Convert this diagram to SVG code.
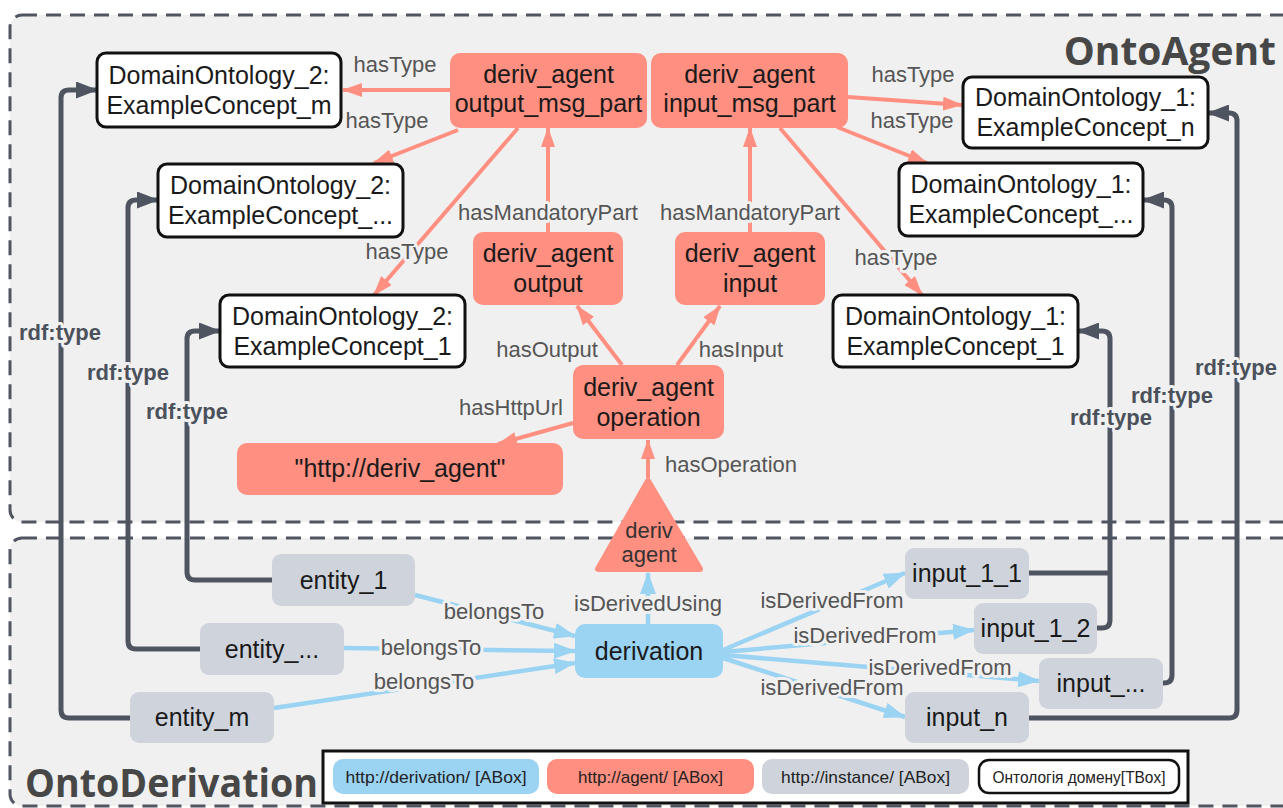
<svg xmlns="http://www.w3.org/2000/svg" width="1283" height="808" viewBox="0 0 1283 808">
<defs>
<style>
.cont{fill:#f0f0f0;stroke:#4f5661;stroke-width:3;stroke-dasharray:15 9}
.tbox{fill:#fff;stroke:#111;stroke-width:3}
.red{fill:#ff8f80}
.blue{fill:#9bd3f3}
.gray{fill:#cfd4dc}
.nt{font-family:"Liberation Sans",Arial,sans-serif;font-size:25px;fill:#1a1a1a;text-anchor:middle}
.lbl{font-family:"Liberation Sans",Arial,sans-serif;font-size:22px;fill:#555;text-anchor:middle;paint-order:stroke;stroke:#f0f0f0;stroke-width:6px;stroke-linejoin:round}
.rdf{font-family:"Liberation Sans",Arial,sans-serif;font-size:22px;font-weight:bold;fill:#4b515b;text-anchor:middle;paint-order:stroke;stroke:#f0f0f0;stroke-width:6px;stroke-linejoin:round}
.title{font-family:"Open Sans","DejaVu Sans",sans-serif;font-size:39px;font-weight:bold;fill:#474747}
.leg{font-family:"Liberation Sans",Arial,sans-serif;font-size:17px;fill:#222;text-anchor:middle}
.er{fill:none;stroke:#ff8f80;stroke-width:4;marker-end:url(#ar)}
.eb{fill:none;stroke:#9bd3f3;stroke-width:4.5;marker-end:url(#ab)}
.eg{fill:none;stroke:#4e5561;stroke-width:5;stroke-linejoin:round}
.ega{marker-end:url(#ag)}
</style>
<marker id="ar" markerUnits="userSpaceOnUse" viewBox="0 0 20 14" markerWidth="20" markerHeight="14" refX="19" refY="7" orient="auto"><path d="M0,0 L20,7 L0,14 z" fill="#ff8f80"/></marker>
<marker id="ab" markerUnits="userSpaceOnUse" viewBox="0 0 22 16" markerWidth="22" markerHeight="16" refX="21" refY="8" orient="auto"><path d="M0,0 L22,8 L0,16 z" fill="#9bd3f3"/></marker>
<marker id="ag" markerUnits="userSpaceOnUse" viewBox="0 0 22 17" markerWidth="22" markerHeight="17" refX="21" refY="8.5" orient="auto"><path d="M0,0 L22,8.5 L0,17 z" fill="#4e5561"/></marker>
</defs>

<g id="containers">
<rect class="cont" x="10" y="15" width="1295" height="507" rx="12"/>
<rect class="cont" x="10" y="538" width="1295" height="268" rx="12"/>
<text class="title" x="1276" y="65" text-anchor="end">OntoAgent</text>
<text class="title" x="25" y="797" textLength="293" lengthAdjust="spacingAndGlyphs">OntoDerivation</text>
</g>

<g id="connectors">
<!-- red -->
<path class="er" d="M450,90 L343,90"/>
<path class="er" d="M458,130 L374,163"/>
<path class="er" d="M518,128 L374,295"/>
<path class="er" d="M548,232 L548,128"/>
<path class="er" d="M750,232 L750,128"/>
<path class="er" d="M848,97 L962,105"/>
<path class="er" d="M837,127 L927,163"/>
<path class="er" d="M780,128 L922,295"/>
<path class="er" d="M622,365 L577,306"/>
<path class="er" d="M677,365 L720,306"/>
<path class="er" d="M573,423 L498,444"/>
<path class="er" d="M648,478 L648,440"/>
<!-- blue -->
<path class="eb" d="M415,595 L575,636"/>
<path class="eb" d="M344,648 L575,651"/>
<path class="eb" d="M274,708 L575,663"/>
<path class="eb" d="M648,624 L648,573"/>
<path class="eb" d="M723,650 L905,573"/>
<path class="eb" d="M723,652 L974,630"/>
<path class="eb" d="M723,655 L1039,681"/>
<path class="eb" d="M723,658 L905,717"/>
<!-- gray rdf:type -->
<path class="eg ega" d="M130,718 H69 Q61,718 61,710 V98 Q61,90 69,90 H97"/>
<path class="eg ega" d="M200,649 H136 Q128,649 128,641 V208 Q128,200 136,200 H158"/>
<path class="eg ega" d="M272,580 H195 Q187,580 187,572 V339 Q187,331 195,331 H220"/>
<path class="eg" d="M1029,573 H1110"/>
<path class="eg ega" d="M1097,628 H1102 Q1110,628 1110,620 V339 Q1110,331 1102,331 H1078"/>
<path class="eg ega" d="M1163,683 H1164 Q1172,683 1172,675 V208 Q1172,200 1164,200 H1143"/>
<path class="eg ega" d="M1029,718 H1229 Q1237,718 1237,710 V121 Q1237,113 1229,113 H1208"/>
<!-- labels -->
<text class="lbl" x="395" y="72">hasType</text>
<text class="lbl" x="387" y="128">hasType</text>
<text class="lbl" x="407" y="259">hasType</text>
<text class="lbl" x="548" y="220">hasMandatoryPart</text>
<text class="lbl" x="750" y="220">hasMandatoryPart</text>
<text class="lbl" x="913" y="82">hasType</text>
<text class="lbl" x="912" y="128">hasType</text>
<text class="lbl" x="896" y="265">hasType</text>
<text class="lbl" x="547" y="357">hasOutput</text>
<text class="lbl" x="741" y="357">hasInput</text>
<text class="lbl" x="511" y="415">hasHttpUrl</text>
<text class="lbl" x="731" y="472">hasOperation</text>
<text class="lbl" x="494" y="619">belongsTo</text>
<text class="lbl" x="431" y="655">belongsTo</text>
<text class="lbl" x="424" y="689">belongsTo</text>
<text class="lbl" x="648" y="611">isDerivedUsing</text>
<text class="lbl" x="832" y="608">isDerivedFrom</text>
<text class="lbl" x="865" y="643">isDerivedFrom</text>
<text class="lbl" x="940" y="675">isDerivedFrom</text>
<text class="lbl" x="832" y="695">isDerivedFrom</text>
<text class="rdf" x="60" y="340">rdf:type</text>
<text class="rdf" x="128" y="380">rdf:type</text>
<text class="rdf" x="187" y="419">rdf:type</text>
<text class="rdf" x="1111" y="425">rdf:type</text>
<text class="rdf" x="1172" y="403">rdf:type</text>
<text class="rdf" x="1236" y="375">rdf:type</text>
</g>

<g id="do2_m"><rect class="tbox" x="97" y="53" width="244" height="74" rx="9"/><text class="nt" x="219" y="84">DomainOntology_2:</text><text class="nt" x="219" y="114">ExampleConcept_m</text></g>
<g id="do2_etc"><rect class="tbox" x="158" y="164" width="245" height="73" rx="9"/><text class="nt" x="280.5" y="194">DomainOntology_2:</text><text class="nt" x="280.5" y="224">ExampleConcept_...</text></g>
<g id="do2_1"><rect class="tbox" x="220" y="295" width="245" height="72" rx="9"/><text class="nt" x="342.5" y="325">DomainOntology_2:</text><text class="nt" x="342.5" y="355">ExampleConcept_1</text></g>
<g id="do1_n"><rect class="tbox" x="963" y="77" width="245" height="71" rx="9"/><text class="nt" x="1085.5" y="106">DomainOntology_1:</text><text class="nt" x="1085.5" y="136">ExampleConcept_n</text></g>
<g id="do1_etc"><rect class="tbox" x="899" y="163" width="244" height="73" rx="9"/><text class="nt" x="1021" y="193">DomainOntology_1:</text><text class="nt" x="1021" y="223">ExampleConcept_...</text></g>
<g id="do1_1"><rect class="tbox" x="833" y="295" width="245" height="72" rx="9"/><text class="nt" x="955.5" y="325">DomainOntology_1:</text><text class="nt" x="955.5" y="355">ExampleConcept_1</text></g>

<g id="out_msg"><rect class="red" x="450" y="53" width="197" height="75" rx="10"/><text class="nt" x="548.5" y="83">deriv_agent</text><text class="nt" x="548.5" y="112">output_msg_part</text></g>
<g id="in_msg"><rect class="red" x="651" y="53" width="197" height="75" rx="10"/><text class="nt" x="749.5" y="83">deriv_agent</text><text class="nt" x="749.5" y="112">input_msg_part</text></g>
<g id="output"><rect class="red" x="473" y="232" width="150" height="73" rx="10"/><text class="nt" x="548" y="262">deriv_agent</text><text class="nt" x="548" y="292">output</text></g>
<g id="input"><rect class="red" x="675" y="232" width="150" height="73" rx="10"/><text class="nt" x="750" y="262">deriv_agent</text><text class="nt" x="750" y="292">input</text></g>
<g id="operation"><rect class="red" x="573" y="365" width="151" height="74" rx="10"/><text class="nt" x="648.5" y="396">deriv_agent</text><text class="nt" x="648.5" y="426">operation</text></g>
<g id="url"><rect class="red" x="237" y="443" width="326" height="52" rx="10"/><text class="nt" x="400" y="477">"http://deriv_agent"</text></g>
<g id="agent"><polygon points="648,481 598,569 700,569" fill="#ff8f80" stroke="#ff8f80" stroke-width="6" stroke-linejoin="round"/><text class="nt" x="649" y="538" style="font-size:22px;fill:#333">deriv</text><text class="nt" x="649" y="562" style="font-size:22px;fill:#333">agent</text></g>

<g id="derivation"><rect class="blue" x="575" y="624" width="148" height="54" rx="10"/><text class="nt" x="649" y="660">derivation</text></g>

<g id="entity_1"><rect class="gray" x="272" y="554" width="143" height="52" rx="9"/><text class="nt" x="343.5" y="589">entity_1</text></g>
<g id="entity_etc"><rect class="gray" x="200" y="623" width="144" height="52" rx="9"/><text class="nt" x="272" y="658">entity_...</text></g>
<g id="entity_m"><rect class="gray" x="130" y="692" width="144" height="51" rx="9"/><text class="nt" x="202" y="726">entity_m</text></g>
<g id="input_1_1"><rect class="gray" x="905" y="548" width="124" height="51" rx="9"/><text class="nt" x="967" y="582">input_1_1</text></g>
<g id="input_1_2"><rect class="gray" x="974" y="603" width="123" height="51" rx="9"/><text class="nt" x="1035.5" y="637">input_1_2</text></g>
<g id="input_etc"><rect class="gray" x="1039" y="658" width="124" height="51" rx="9"/><text class="nt" x="1101" y="692">input_...</text></g>
<g id="input_n"><rect class="gray" x="905" y="692" width="124" height="51" rx="9"/><text class="nt" x="967" y="726">input_n</text></g>

<g id="legend">
<rect x="323" y="751" width="865" height="52" fill="#fff" stroke="#111" stroke-width="3"/>
<rect class="blue" x="333" y="759" width="206" height="35" rx="10"/><text class="leg" x="436" y="783" textLength="181" lengthAdjust="spacingAndGlyphs">http://derivation/ [ABox]</text>
<rect class="red" x="547" y="759" width="207" height="35" rx="10"/><text class="leg" x="650.5" y="783" textLength="145" lengthAdjust="spacingAndGlyphs">http://agent/ [ABox]</text>
<rect class="gray" x="762" y="759" width="207" height="35" rx="10"/><text class="leg" x="865.5" y="783" textLength="169" lengthAdjust="spacingAndGlyphs">http://instance/ [ABox]</text>
<rect x="979" y="760" width="200" height="33" rx="10" fill="#fff" stroke="#111" stroke-width="2.5"/><text class="leg" x="1079" y="783" textLength="173" lengthAdjust="spacingAndGlyphs">Онтологія домену[TBox]</text>
</g>
</svg>
